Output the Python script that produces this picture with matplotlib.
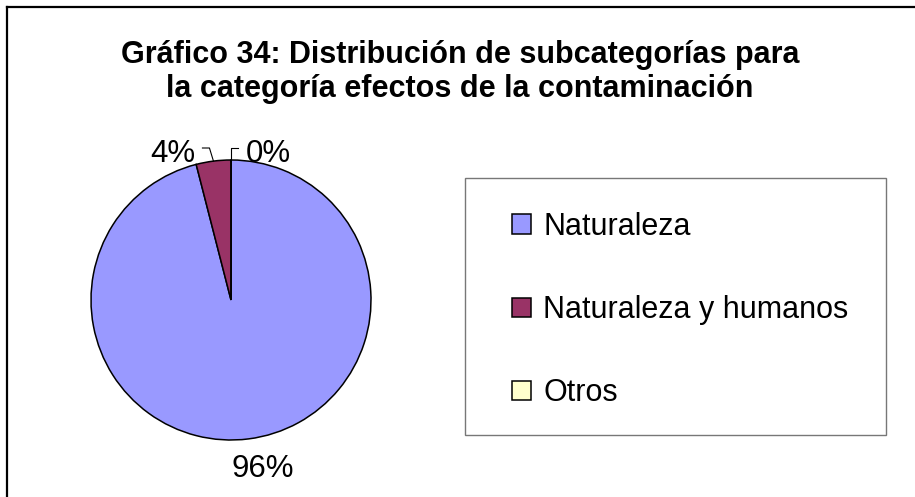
import numpy as np
import matplotlib.pyplot as plt
from matplotlib.patches import Rectangle
from matplotlib.lines import Line2D

plt.rcParams['font.family'] = ['Liberation Sans', 'DejaVu Sans']

title = 'Gráfico 34: Distribución de subcategorías para\nla categoría efectos de la contaminación'
categories = ['Naturaleza', 'Naturaleza y humanos', 'Otros']
values = [96, 4, 0]
colors = ['#9999FF', '#993366', '#FFFFCC']

W, H = 915, 497
fig = plt.figure(figsize=(W / 100, H / 100), dpi=100)

# one axes over the whole figure, units are pixels
ax = fig.add_axes([0, 0, 1, 1])
cx, cy, r = 231, 197, 140
wedges, _ = ax.pie(values, colors=colors, startangle=90, counterclock=False,
                   center=(cx, cy), radius=r,
                   wedgeprops=dict(edgecolor='black', linewidth=1.1))
ax.set_xlim(0, W)
ax.set_ylim(0, H)
ax.set_aspect('auto')
ax.axis('off')

fs = 22.5
total = sum(values)
for w, v in zip(wedges, values):
    mid = np.deg2rad((w.theta1 + w.theta2) / 2)
    ex, ey = cx + r * np.cos(mid), cy + r * np.sin(mid)
    txt = f'{v / total:.0%}'
    if v / total > 0.5:
        ax.text(cx + 1.22 * r * np.cos(mid) + 10, cy - r - 37, txt,
                ha='center', va='baseline', fontsize=fs)
    else:
        ly = cy + r + 12
        left = np.cos(mid) < -0.01
        if left:
            ax.plot([ex, ex - 4, ex - 11], [ey, ly, ly], color='black', lw=0.8)
            ax.text(ex - 18, cy + r - 2, txt, ha='right', va='baseline', fontsize=fs)
        else:
            ax.plot([ex, ex, ex + 7], [ey, ly, ly], color='black', lw=0.8)
            ax.text(ex + 15, cy + r - 2, txt, ha='left', va='baseline', fontsize=fs)

fig.text(460 / W, 1 - 72 / H, title, ha='center', va='center',
         fontsize=22, fontweight='bold', linespacing=1.17)

# legend box and entries
fig.patches.append(Rectangle((465 / W, 1 - 435 / H), 421 / W, 257 / H,
                             transform=fig.transFigure, facecolor='white',
                             edgecolor='#777777', linewidth=1.0, zorder=0))
fig.legend(wedges, categories, loc='upper left',
           bbox_to_anchor=(512 / W, 1 - 212 / H), frameon=False,
           fontsize=22, borderpad=0, borderaxespad=0,
           handlelength=0.62, handleheight=0.62, handletextpad=0.4,
           labelspacing=1.74)

# chart border (top and left edges)
fig.add_artist(Line2D([7 / W, 7 / W], [0, 1 - 7 / H], color='black', lw=1.6,
                      transform=fig.transFigure))
fig.add_artist(Line2D([7 / W, 1], [1 - 7 / H, 1 - 7 / H], color='black', lw=1.6,
                      transform=fig.transFigure))

fig.savefig('out.png', dpi=100)
